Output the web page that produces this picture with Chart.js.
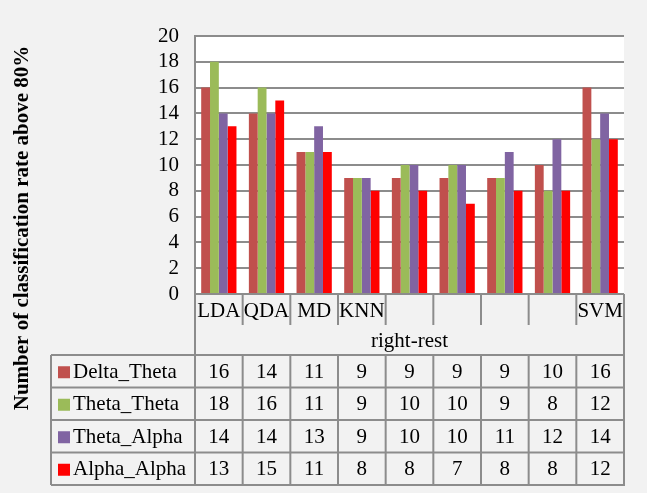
<!DOCTYPE html>
<html>
<head>
<meta charset="utf-8">
<script src="https://cdn.jsdelivr.net/npm/chart.js@4.4.0/dist/chart.umd.min.js"></script>
<style>
  body { margin: 0; background: #f2f2f2; }
  #wrap { width: 647px; height: 493px; position: relative; }
</style>
</head>
<body>
<div id="wrap"><canvas id="myChart"></canvas></div>
<script>
const categories = ['LDA', 'QDA', 'MD', 'KNN', '', '', '', '', 'SVM'];
const groupLabel = 'right-rest';
const deltaTheta = [16, 14, 11, 9, 9, 9, 9, 10, 16];
const thetaTheta = [18, 16, 11, 9, 10, 10, 9, 8, 12];
const thetaAlpha = [14, 14, 13, 9, 10, 10, 11, 12, 14];
const alphaAlpha = [13, 15, 11, 8, 8, 7, 8, 8, 12];
const yTitle = 'Number of classification rate above 80%';

const seriesNames = ['Delta_Theta', 'Theta_Theta', 'Theta_Alpha', 'Alpha_Alpha'];
const seriesColors = ['#c0504d', '#9bbb59', '#8064a2', '#ff0000'];
const seriesData = [deltaTheta, thetaTheta, thetaAlpha, alphaAlpha];

const lineColor = '#8c8c8c';
const serif = '"Liberation Serif", "Times New Roman", serif';

// white plot area + data table under the axis
const tablePlugin = {
    id: 'tablePlugin',
    beforeDraw(chart) {
        const { ctx, chartArea: a } = chart;
        ctx.save();
        ctx.fillStyle = '#ffffff';
        ctx.fillRect(a.left, a.top, a.right - a.left, a.bottom - a.top);
        ctx.restore();
    },
    afterDraw(chart) {
        const { ctx, chartArea: a } = chart;
        const x = chart.scales.x;
        const n = categories.length;
        const half = (x.getPixelForValue(1) - x.getPixelForValue(0)) / 2;
        const edges = [];
        for (let i = 0; i < n; i++) edges.push(x.getPixelForValue(i) - half);
        edges.push(x.getPixelForValue(n - 1) + half);

        const catBottom = a.bottom + 31;
        const groupBottom = a.bottom + 61;
        const rowH = 32.5;
        const legendLeft = 51;
        const tableBottom = groupBottom + rowH * 4;

        ctx.save();
        ctx.strokeStyle = lineColor;
        ctx.lineWidth = 2;
        ctx.beginPath();
        // category row separators
        edges.forEach((e, i) => {
            const bottom = (i === 0 || i === n) ? groupBottom : catBottom;
            ctx.moveTo(e, a.bottom);
            ctx.lineTo(e, bottom);
        });
        // data rows
        for (let r = 0; r <= 4; r++) {
            const yy = groupBottom + r * rowH;
            ctx.moveTo(legendLeft, yy);
            ctx.lineTo(edges[n] + 1, yy);
        }
        ctx.moveTo(legendLeft, groupBottom);
        ctx.lineTo(legendLeft, tableBottom);
        edges.forEach(e => {
            ctx.moveTo(e, groupBottom);
            ctx.lineTo(e, tableBottom);
        });
        ctx.stroke();

        ctx.fillStyle = '#000';
        ctx.font = '21px ' + serif;
        ctx.textAlign = 'center';
        ctx.textBaseline = 'middle';
        categories.forEach((c, i) => {
            ctx.fillText(c, x.getPixelForValue(i), a.bottom + 17);
        });
        ctx.fillText(groupLabel, (edges[0] + edges[n]) / 2, (catBottom + groupBottom) / 2 + 1);

        seriesData.forEach((vals, r) => {
            const cy = groupBottom + r * rowH + rowH / 2 + 1;
            ctx.fillStyle = seriesColors[r];
            ctx.fillRect(58, cy - 6, 12, 12);
            ctx.fillStyle = '#000';
            ctx.textAlign = 'left';
            ctx.fillText(seriesNames[r], 73, cy);
            ctx.textAlign = 'center';
            vals.forEach((v, i) => ctx.fillText(String(v), x.getPixelForValue(i), cy));
        });

        // rotated axis title
        ctx.translate(23, 228);
        ctx.rotate(-Math.PI / 2);
        ctx.font = 'bold 21px ' + serif;
        ctx.fillText(yTitle, 0, 0);
        ctx.restore();
    }
};

const ctx = document.getElementById('myChart').getContext('2d');
const myChart = new Chart(ctx, {
    type: 'bar',
    data: {
        labels: categories,
        datasets: seriesData.map((d, i) => ({
            label: seriesNames[i],
            data: d,
            backgroundColor: seriesColors[i],
            borderWidth: 0
        }))
    },
    options: {
        responsive: true,
        maintainAspectRatio: false,
        animation: false,
        datasets: { bar: { categoryPercentage: 0.74, barPercentage: 1 } },
        layout: { padding: { left: 125, top: 36, right: 23, bottom: 199 } },
        plugins: { legend: { display: false }, tooltip: { enabled: false } },
        scales: {
            x: { display: false },
            y: {
                min: 0,
                max: 20,
                ticks: {
                    stepSize: 2,
                    autoSkip: false,
                    color: '#000',
                    padding: 16,
                    font: { family: serif, size: 21 }
                },
                grid: { color: lineColor, lineWidth: 2, drawTicks: false },
                border: { color: lineColor, width: 2 },
                afterFit(scale) { scale.width = 70; }
            }
        }
    },
    plugins: [tablePlugin]
});
</script>
</body>
</html>
